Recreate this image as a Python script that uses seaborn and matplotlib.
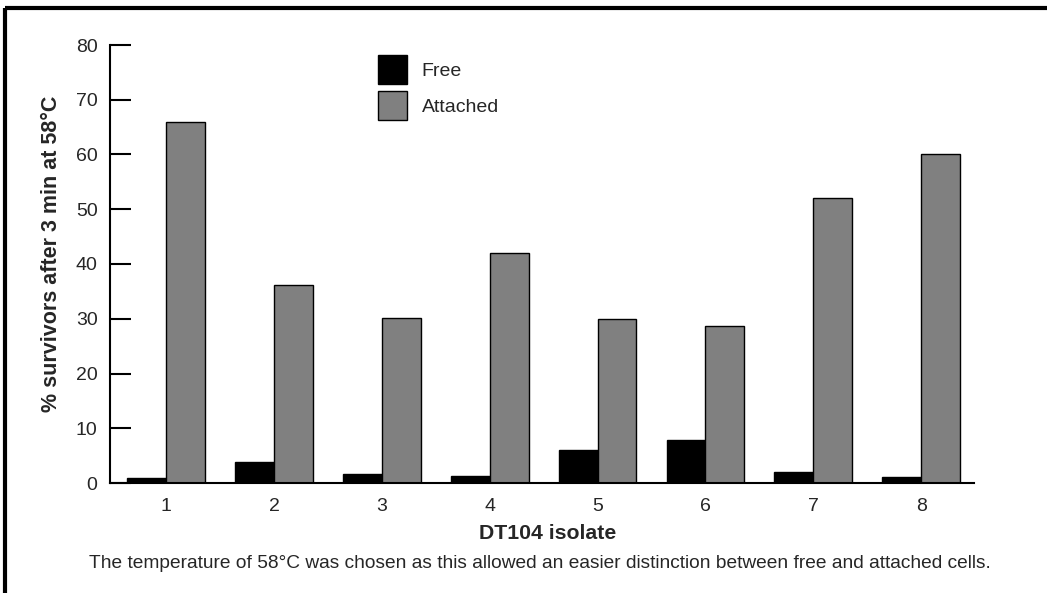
import matplotlib
matplotlib.use("Agg")
import matplotlib.pyplot as plt
from matplotlib.lines import Line2D
import seaborn as sns
import pandas as pd

# Survival data per isolate
isolates = ["1", "2", "3", "4", "5", "6", "7", "8"]
free = [0.9, 3.8, 1.6, 1.2, 6.0, 7.8, 2.0, 1.1]
attached = [66.0, 36.2, 30.2, 42.0, 30.0, 28.6, 52.0, 60.0]
y_ticks = [0, 10, 20, 30, 40, 50, 60, 70, 80]

df = pd.DataFrame({
    "isolate": isolates * 2,
    "survivors": free + attached,
    "cells": ["Free"] * len(isolates) + ["Attached"] * len(isolates),
})

sns.set_theme(style="white")
plt.rcParams["font.family"] = ["Liberation Sans", "DejaVu Sans"]

fig = plt.figure(figsize=(10.47, 5.93), dpi=100)
ax = fig.add_axes([110 / 1047, 1 - 483 / 593, (974 - 110) / 1047, (483 - 45) / 593])

sns.barplot(
    data=df, x="isolate", y="survivors", hue="cells", ax=ax,
    palette={"Free": "black", "Attached": "#808080"},
    width=0.72, gap=0, edgecolor="black", linewidth=1.0, saturation=1,
)

ax.set_ylim(0, 80)
ax.set_xlim(-0.52, 7.49)
ax.set_yticks(y_ticks)
ax.tick_params(axis="y", direction="in", length=15, width=1.5, color="black",
               labelsize=14, pad=9, left=True)
ax.tick_params(axis="x", length=0, labelsize=14, pad=11)
for side in ["top", "right"]:
    ax.spines[side].set_visible(False)
for side in ["left", "bottom"]:
    ax.spines[side].set_color("black")
    ax.spines[side].set_linewidth(1.5)

ax.set_xlabel("DT104 isolate", fontsize=15.3, fontweight="bold", labelpad=6)
ax.set_ylabel("% survivors after 3 min at 58°C", fontsize=15.5, fontweight="bold", labelpad=10)
ax.xaxis.label.set_x(0.506)
ax.yaxis.label.set_y(0.523)

handles, labels = ax.get_legend_handles_labels()
ax.legend(handles, labels, loc="upper left", frameon=False,
          bbox_to_anchor=(378 / 1047, 1 - 55 / 593), bbox_transform=fig.transFigure,
          borderaxespad=0, borderpad=0, fontsize=14,
          handlelength=1.5, handleheight=1.92, labelspacing=0.36, handletextpad=0.75)

fig.text(540 / 1047, 1 - 564 / 593,
         "The temperature of 58°C was chosen as this allowed an easier distinction between free and attached cells.",
         ha="center", va="center", fontsize=13.8)

# Outer frame along top and left edges
fig.add_artist(Line2D([5 / 1047, 1], [1 - 8 / 593, 1 - 8 / 593], transform=fig.transFigure,
                      color="black", linewidth=3, solid_capstyle="butt"))
fig.add_artist(Line2D([5 / 1047, 5 / 1047], [0, 1 - 8 / 593], transform=fig.transFigure,
                      color="black", linewidth=3, solid_capstyle="butt"))

fig.savefig("out.png", dpi=100)
